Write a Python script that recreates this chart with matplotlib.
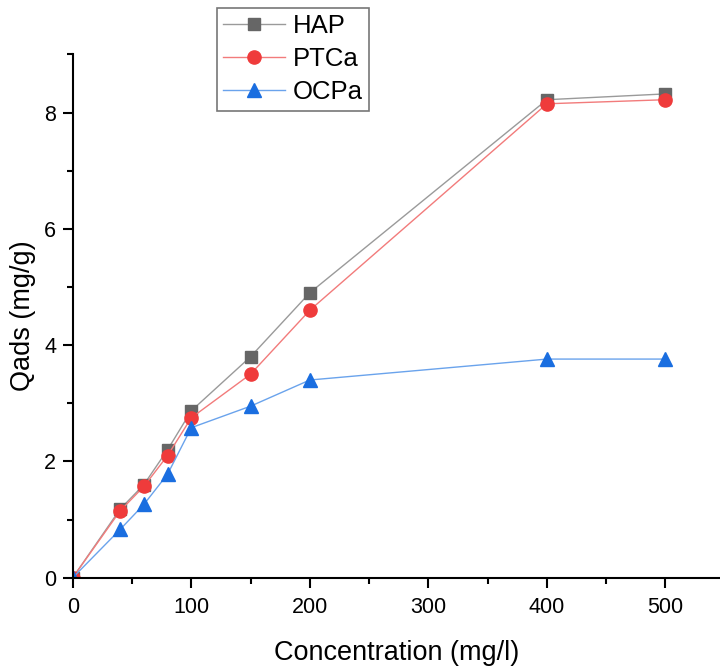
import numpy as np
import matplotlib
matplotlib.use("Agg")
import matplotlib.pyplot as plt
from matplotlib.ticker import MultipleLocator

plt.rcParams["font.family"] = ["Liberation Sans", "DejaVu Sans"]

concentration = [0, 40, 60, 80, 100, 150, 200, 400, 500]
hap = [0.0, 1.18, 1.60, 2.20, 2.87, 3.80, 4.90, 8.22, 8.32]
ptca = [0.0, 1.15, 1.57, 2.10, 2.75, 3.50, 4.60, 8.15, 8.22]
ocpa = [0.0, 0.83, 1.26, 1.78, 2.58, 2.95, 3.40, 3.76, 3.76]


def main():
    fig = plt.figure(figsize=(7.2, 6.71), dpi=100)
    ax = fig.add_axes([0.101, 0.139, 0.899, 0.78])

    ax.plot(concentration, hap, color="#9a9a9a", linewidth=1.0, marker="s",
            markersize=8, markerfacecolor="#666666", markeredgecolor="#666666",
            label="HAP")
    ax.plot(concentration, ptca, color="#f27b7b", linewidth=1.0, marker="o",
            markersize=9.5, markerfacecolor="#ef3b3b", markeredgecolor="#ef3b3b",
            label="PTCa")
    ax.plot(concentration, ocpa, color="#6aa3ec", linewidth=1.0, marker="^",
            markersize=10, markerfacecolor="#1a6ee0", markeredgecolor="#1a6ee0",
            label="OCPa")

    ax.set_xlim(0, 546)
    ax.set_ylim(0, 9)
    ax.xaxis.set_major_locator(MultipleLocator(100))
    ax.xaxis.set_minor_locator(MultipleLocator(50))
    ax.yaxis.set_major_locator(MultipleLocator(2))
    ax.yaxis.set_minor_locator(MultipleLocator(1))

    for side in ("top", "right"):
        ax.spines[side].set_visible(False)
    for side in ("left", "bottom"):
        ax.spines[side].set_linewidth(1.5)
    ax.tick_params(which="major", direction="out", length=7, width=1.5,
                   labelsize=15.5)
    ax.tick_params(axis="x", which="major", pad=7)
    ax.tick_params(axis="y", which="major", pad=5)
    ax.tick_params(which="minor", direction="out", length=4, width=1.5)

    ax.set_xlabel("Concentration (mg/l)", fontsize=19.5, labelpad=16)
    ax.set_ylabel("Qads (mg/g)", fontsize=19.5, labelpad=6)

    leg = ax.legend(loc="upper left", bbox_to_anchor=(0.301, 0.988),
                    bbox_transform=fig.transFigure, borderaxespad=0,
                    fontsize=18.5, frameon=True, fancybox=False,
                    edgecolor="#555555", handlelength=2.4,
                    handletextpad=0.3, borderpad=0.25, labelspacing=0.35)
    leg.get_frame().set_linewidth(1.2)

    fig.savefig("out.png", dpi=100)


if __name__ == "__main__":
    main()
